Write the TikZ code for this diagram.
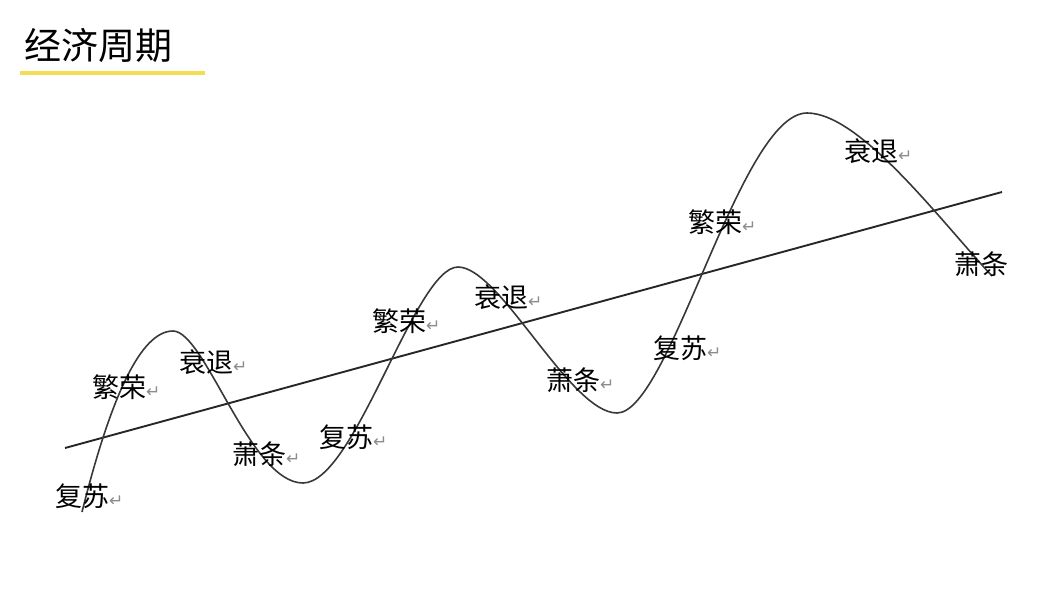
\documentclass[tikz,border=0pt]{standalone}
\usepackage{fontspec}
\setmainfont{Noto Sans CJK SC}
\newfontfamily\symfont{DejaVu Sans}
\usepackage{tikz}
\definecolor{titleline}{RGB}{245,220,85}
\newcommand{\retmark}{{\symfont\fontsize{17}{17}\selectfont\color{black!45}↵}}

\begin{document}
\begin{tikzpicture}[x=1pt,y=-1pt,
	phase/.style={anchor=west,inner sep=0pt,font=\fontsize{27}{27}\selectfont}]
			\useasboundingbox (0,0) rectangle (1060,600);
			\node[anchor=west,inner sep=0pt,font=\fontsize{37}{37}\selectfont]  (title)  at (24,45) {经济周期};
			\coordinate (u0) at (20,73);
			\coordinate (u1) at (205,73);
			\draw[titleline,line width=4pt] (u0) -- (u1);

			\coordinate (t0) at (65,448);
			\coordinate (t1) at (1002,192);
			\draw[line width=1.9pt,black!85] (t0) -- (t1);

			\draw[line width=1.6pt,black!78] (82,512) .. controls (110,400) and (140,331) .. (173,331)
				.. controls (205,331) and (250,483) .. (303,483)
				.. controls (355,483) and (415,267) .. (458,267)
				.. controls (500,267) and (570,413) .. (617,413)
				.. controls (670,413) and (740,113) .. (807,113)
				.. controls (860,113) and (940,220) .. (992,276);

			\node[phase]  (rev1)  at (55,496)  {复苏\retmark};
			\node[phase]  (boom1) at (92,387)  {繁荣\retmark};
			\node[phase]  (rec1)  at (179,362) {衰退\retmark};
			\node[phase]  (dep1)  at (232,454) {萧条\retmark};
			\node[phase]  (rev2)  at (319,437) {复苏\retmark};
			\node[phase]  (boom2) at (372,321) {繁荣\retmark};
			\node[phase]  (rec2)  at (474,297) {衰退\retmark};
			\node[phase]  (dep2)  at (546,380) {萧条\retmark};
			\node[phase]  (rev3)  at (653,348) {复苏\retmark};
			\node[phase]  (boom3) at (688,222) {繁荣\retmark};
			\node[phase]  (rec3)  at (844,151) {衰退\retmark};
			\node[phase]  (dep3)  at (954,264) {萧条};
		\end{tikzpicture}
\end{document}
